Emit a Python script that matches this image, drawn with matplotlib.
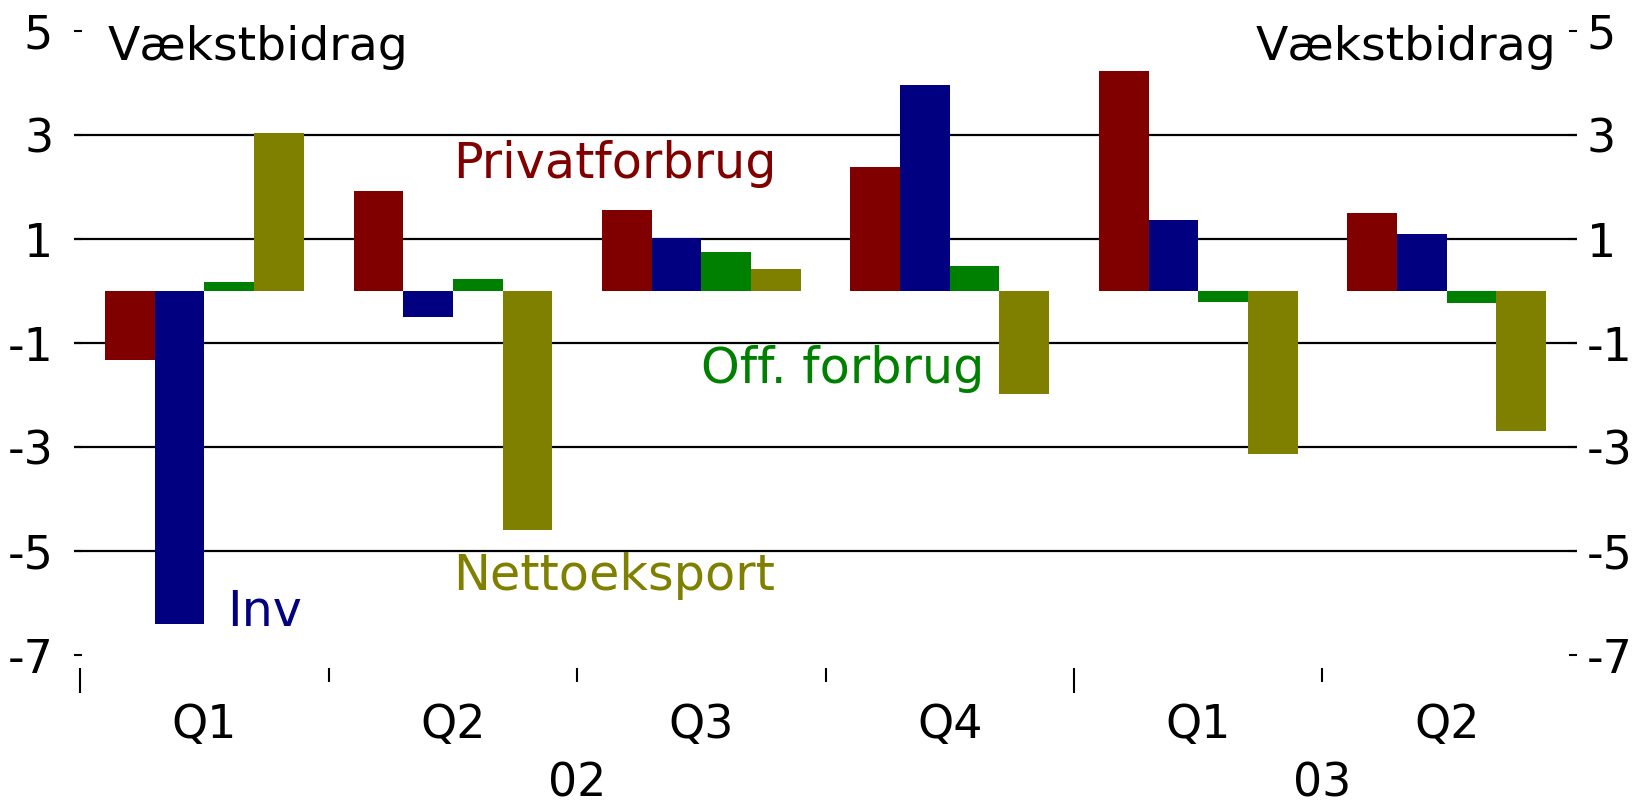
import numpy as np
import matplotlib
matplotlib.use("Agg")
import matplotlib.pyplot as plt

plt.rcParams['font.family'] = ['DejaVu Sans']
plt.rcParams['axes.unicode_minus'] = False

quarters = ["Q1", "Q2", "Q3", "Q4", "Q1", "Q2"]
years = ["02", "03"]
year_len = [4, 2]
series = ["Privatforbrug", "Inv", "Off. forbrug", "Nettoeksport"]
colors = ["#800000", "#000080", "#008000", "#808000"]
privat = [-1.32, 1.93, 1.57, 2.39, 4.23, 1.50]
inv = [-6.41, -0.49, 1.02, 3.97, 1.38, 1.10]
off = [0.17, 0.23, 0.76, 0.49, -0.21, -0.23]
netto = [3.04, -4.60, 0.43, -1.97, -3.14, -2.68]
values = [privat, inv, off, netto]
yticks = [-7, -5, -3, -1, 1, 3, 5]

fig = plt.figure(figsize=(16.48, 8.05), dpi=100)
ax = fig.add_axes([0.0449, 0.1863, 0.9121, 0.7747])

x = np.arange(len(quarters))
w = 0.2
for i, (vals, c) in enumerate(zip(values, colors)):
    ax.bar(x + (i - 1.5) * w, vals, width=w, color=c, zorder=3)

ax.set_xlim(-0.525, 5.525)
ax.set_ylim(-7, 5)
for g in [-5, -3, -1, 1, 3]:
    ax.axhline(g, color="black", lw=1.6, zorder=1)

ax2 = ax.twinx()
for a in (ax, ax2):
    for s in a.spines.values():
        s.set_visible(False)
ax.spines['bottom'].set_position(('outward', 9))

ax.set_yticks(yticks)
ax.set_yticklabels([str(t) for t in yticks])
ax.tick_params(axis='y', direction='in', length=5.5, width=1.5, labelsize=33, pad=15)

ax2.set_ylim(ax.get_ylim())
ax2.set_yticks(yticks)
ax2.set_yticklabels([str(t) for t in yticks])
ax2.tick_params(axis='y', direction='in', length=5.5, width=1.5, labelsize=33, pad=7)

# x ticks: year boundaries long, quarter boundaries short
bounds = np.arange(len(quarters)) - 0.5
year_starts = np.cumsum([0] + year_len[:-1]) - 0.5
ax.set_xticks(year_starts)
ax.set_xticks([b for b in bounds if b not in year_starts], minor=True)
ax.tick_params(axis='x', which='major', direction='out', length=18, width=1.5, labelbottom=False)
ax.tick_params(axis='x', which='minor', direction='out', length=10, width=1.5, labelbottom=False)

tr = ax.get_xaxis_transform()
for xi, q in zip(x, quarters):
    ax.text(xi, -0.113, q, transform=tr, ha='center', va='center', fontsize=33)
start = 0
for yr, n in zip(years, year_len):
    ax.text(start - 0.5 + n / 2, -0.207, yr, transform=tr, ha='center', va='center', fontsize=33)
    start += n

ax.text(-0.39, 4.44, "Vækstbidrag", ha='left', va='baseline', fontsize=34)
ax.text(5.44, 4.44, "Vækstbidrag", ha='right', va='baseline', fontsize=34)

label_pos = [(1.0, 2.17), (0.09, -6.44), (2.0, -1.77), (1.0, -5.75)]
for name, c, (lx, ly) in zip(series, colors, label_pos):
    ax.text(lx, ly, name, color=c, ha='left', va='baseline', fontsize=35.5)

fig.savefig("out.png", dpi=100)
